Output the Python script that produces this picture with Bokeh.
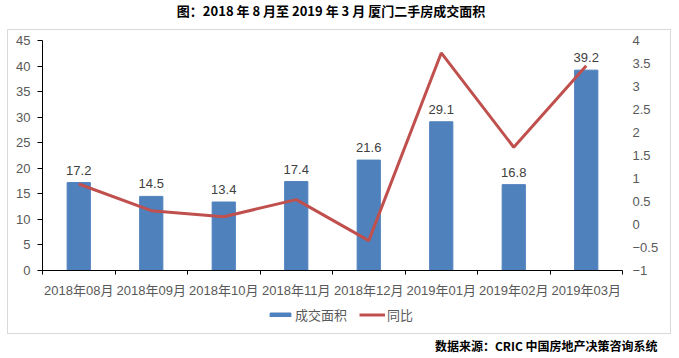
from bokeh.plotting import figure
from bokeh.layouts import column
from bokeh.models import (Range1d, LinearAxis, FixedTicker, SingleIntervalTicker,
                          Legend, LegendItem, Label, ColumnDataSource)
from bokeh.core.properties import value
from bokeh.embed import file_html
from bokeh.resources import INLINE

months = ["2018年08月", "2018年09月", "2018年10月", "2018年11月", "2018年12月",
          "2019年01月", "2019年02月", "2019年03月"]
area = [17.2, 14.5, 13.4, 17.4, 21.6, 29.1, 16.8, 39.2]
yoy = [0.88, 0.30, 0.17, 0.54, -0.35, 3.73, 1.68, 3.45]

title_text = "图：2018 年 8 月至 2019 年 3 月  厦门二手房成交面积"
source_text = "数据来源：CRIC 中国房地产决策咨询系统"
series_names = ["成交面积", "同比"]

FONT = "Liberation Sans, Noto Sans CJK SC"
CJK = "Noto Sans CJK SC"
BLUE = "#4F81BD"
RED = "#C0504D"
W = 679
INNER_W = 662

n = len(months)
centers = [i + 0.5 for i in range(n)]
src = ColumnDataSource(dict(x=centers, area=area, yoy=yoy,
                            lbl=[f"{v:.1f}" for v in area]))


def text_fig(height, width=W):
    f = figure(width=width, height=height, output_backend="svg", toolbar_location=None,
               x_range=Range1d(0, width), y_range=Range1d(0, height),
               x_axis_location=None, y_axis_location=None,
               min_border=0, min_border_left=0, min_border_right=0,
               min_border_top=0, min_border_bottom=0)
    f.outline_line_color = None
    f.grid.visible = False
    return f


# ---- title ----
tfig = text_fig(29)
tfig.add_layout(Label(x=332, y=19, text=title_text, text_align="center",
                      text_baseline="middle", text_font=CJK, text_font_style="bold",
                      text_font_size="13px", text_color="black"))

# ---- main chart ----
p = figure(width=INNER_W, height=276, output_backend="svg", toolbar_location=None,
           x_range=Range1d(0, n), y_range=Range1d(0, 45),
           min_border_left=34, min_border_right=48, min_border_top=10,
           min_border_bottom=36)
p.outline_line_color = None
p.grid.visible = False
p.extra_y_ranges = {"r": Range1d(-1, 4)}

p.vbar(x="x", top="area", width=0.32, source=src, color=BLUE)
p.line(x="x", y="yoy", source=src, y_range_name="r", line_color=RED, line_width=3)
p.text(x="x", y="area", text="lbl", source=src, y_offset=-8,
       text_align="center", text_baseline="bottom", text_font_size="13px",
       text_color="#404040", text_font=value(FONT))

xa = p.xaxis[0]
xa.ticker = FixedTicker(ticks=centers, minor_ticks=list(range(n + 1)))
xa.major_label_overrides = {c: m for c, m in zip(centers, months)}
xa.major_tick_line_color = None
xa.major_tick_out = 0
xa.major_tick_in = 0
xa.minor_tick_line_color = "black"
xa.minor_tick_out = 4
xa.minor_tick_in = 0
xa.axis_line_color = "black"
xa.major_label_text_font = FONT
xa.major_label_text_font_size = "13px"
xa.major_label_text_color = "#595959"
xa.major_label_standoff = 8

ya = p.yaxis[0]
ya.ticker = SingleIntervalTicker(interval=5)
ya.axis_line_color = "black"
ya.major_tick_line_color = "black"
ya.major_tick_out = 5
ya.major_tick_in = 0
ya.minor_tick_line_color = None
ya.major_label_text_font = FONT
ya.major_label_text_font_size = "13px"
ya.major_label_text_color = "#595959"
ya.major_label_standoff = 7

ra = LinearAxis(y_range_name="r", ticker=SingleIntervalTicker(interval=0.5))
ra.axis_line_color = None
ra.major_tick_line_color = None
ra.major_tick_out = 0
ra.minor_tick_line_color = None
ra.major_label_text_font = FONT
ra.major_label_text_font_size = "13px"
ra.major_label_text_color = "#595959"
ra.major_label_standoff = 6
ra.major_label_overrides = {-0.5: "\u22120.5", -1: "\u22121"}
p.add_layout(ra, "right")

# ---- legend row ----
lfig = text_fig(27, INNER_W)
lb = lfig.vbar(x=[0], top=[0], width=1, color=BLUE, visible=False)
ll = lfig.line(x=[0, 1], y=[0, 0], line_color=RED, line_width=3, visible=False)
legend = Legend(items=[LegendItem(label=series_names[0], renderers=[lb]),
                       LegendItem(label=series_names[1], renderers=[ll])],
                orientation="horizontal", location=(225, 9),
                label_text_font=CJK, label_text_font_size="13px",
                label_text_color="#595959", glyph_width=26, glyph_height=5,
                border_line_color=None, background_fill_alpha=0,
                inactive_fill_alpha=0, spacing=12, padding=2, margin=0,
                label_standoff=2)
lfig.add_layout(legend)

box = column(p, lfig, spacing=0, margin=(0, 0, 0, 7),
             styles={"border": "1px solid #d9d9d9", "box-sizing": "content-box"})

# ---- source ----
sfig = text_fig(24)
sfig.add_layout(Label(x=657, y=13, text=source_text, text_align="right",
                      text_baseline="middle", text_font=CJK, text_font_style="bold",
                      text_font_size="12px", text_color="black"))

layout = column(tfig, box, sfig, spacing=0)

open("out.html", "w").write(file_html(layout, INLINE))
